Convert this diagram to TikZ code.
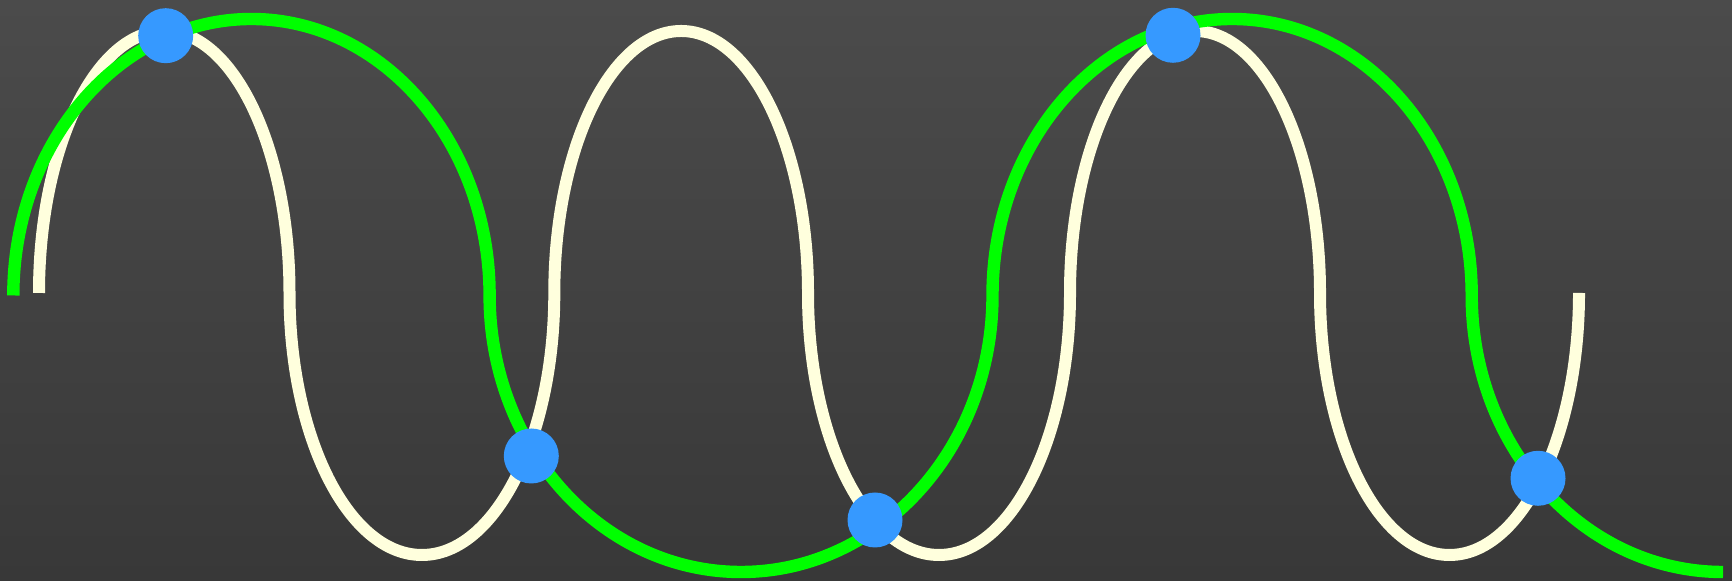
\documentclass[tikz,border=0pt]{standalone}
\usepackage{tikz}
\definecolor{bgtop}{RGB}{75,75,75}
\definecolor{bgbot}{RGB}{56,56,56}
\definecolor{creamc}{RGB}{255,255,221}
\definecolor{greenc}{RGB}{0,255,0}
\definecolor{dotc}{RGB}{54,153,255}
\tikzset{
  creamline/.style={draw=creamc, line width=6pt, line cap=butt},
  greenline/.style={draw=greenc, line width=6.2pt, line cap=butt},
  dotnode/.style={circle, fill=dotc, draw=none, inner sep=0pt, minimum size=27.5pt}
}
\begin{document}
\begin{tikzpicture}[x=0.5pt,y=0.5pt]
\useasboundingbox (0,0) rectangle (1732,581);
\shade[top color=bgtop, bottom color=bgbot] (0,0) rectangle (1732,581);
% cream curve: midline Y=288, amplitude 262
\coordinate (cs) at (39,288);
\draw[creamline] (cs)
  arc[start angle=180, end angle=0, x radius=125.25, y radius=262]
  arc[start angle=180, end angle=360, x radius=132.4, y radius=262]
  arc[start angle=180, end angle=0, x radius=126.85, y radius=262]
  arc[start angle=180, end angle=360, x radius=131, y radius=262]
  arc[start angle=180, end angle=0, x radius=125, y radius=262]
  arc[start angle=180, end angle=360, x radius=129.5, y radius=262];
% green curve: midline Y=285.5, amplitude 276.5
\coordinate (gs) at (13.3,285.5);
\draw[greenline] (gs)
  arc[start angle=180, end angle=0, x radius=238.15, y radius=276.5]
  arc[start angle=180, end angle=360, x radius=251.45, y radius=276.5]
  arc[start angle=180, end angle=0, x radius=239.6, y radius=276.5]
  arc[start angle=180, end angle=270, x radius=251.3, y radius=276.5];
% intersection dots
\node[dotnode] (d1) at (165.7,545.3) {};
\node[dotnode] (d2) at (531.3,125) {};
\node[dotnode] (d3) at (875,61) {};
\node[dotnode] (d4) at (1173,545.7) {};
\node[dotnode] (d5) at (1538,102.7) {};
\end{tikzpicture}
\end{document}
